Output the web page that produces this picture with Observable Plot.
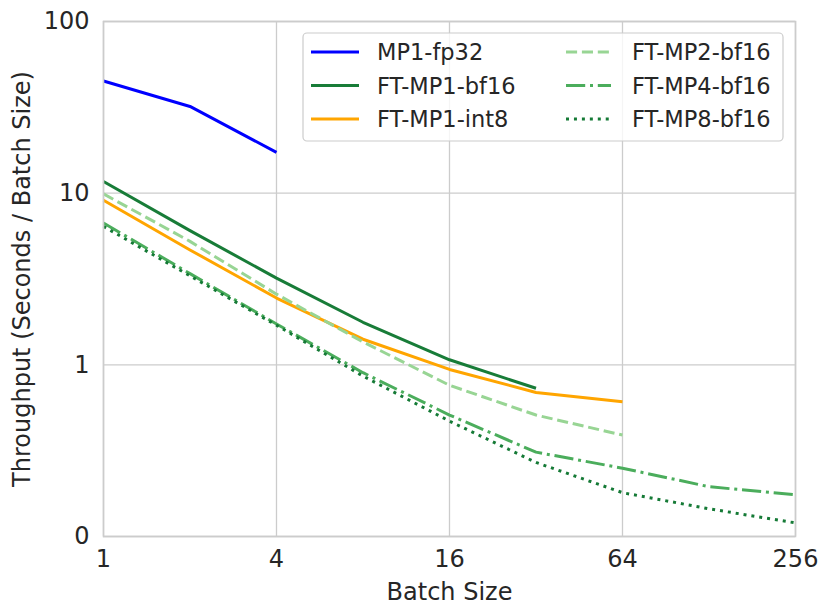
<!DOCTYPE html>
<html>
<head>
<meta charset="utf-8">
<script src="https://cdn.jsdelivr.net/npm/d3@7"></script>
<script src="https://cdn.jsdelivr.net/npm/@observablehq/plot@0.6"></script>
<style>
  body { margin: 0; background: #fff; }
  #wrap { position: relative; width: 830px; height: 616px; font-family: "DejaVu Sans", sans-serif; }
  #legend { position: absolute; left: 0; top: 0; pointer-events: none; }
</style>
</head>
<body>
<div id="wrap"></div>
<script>
const batch = [1, 2, 4, 8, 16, 32, 64, 128, 256];
const seriesNames = ["MP1-fp32", "FT-MP1-bf16", "FT-MP1-int8", "FT-MP2-bf16", "FT-MP4-bf16", "FT-MP8-bf16"];
const mp1_fp32    = [45, 32, 17.3];
const ft_mp1_bf16 = [11.7, 6.05, 3.2, 1.77, 1.07, 0.73];
const ft_mp1_int8 = [9.1, 4.67, 2.45, 1.41, 0.94, 0.69, 0.61];
const ft_mp2_bf16 = [9.9, 5.24, 2.58, 1.36, 0.76, 0.51, 0.39];
const ft_mp4_bf16 = [6.7, 3.4, 1.73, 0.90, 0.51, 0.31, 0.25, 0.195, 0.175];
const ft_mp8_bf16 = [6.4, 3.3, 1.70, 0.86, 0.47, 0.27, 0.18, 0.145, 0.12];
const xTicks = [1, 4, 16, 64, 256];
const yTicks = [0.1, 1, 10, 100];
const yTickLabels = ["0", "1", "10", "100"];

const values = [mp1_fp32, ft_mp1_bf16, ft_mp1_int8, ft_mp2_bf16, ft_mp4_bf16, ft_mp8_bf16];
const colors = ["#0000ff", "#187c38", "#ffa500", "#98d594", "#4bad5c", "#157a36"];
const dashes = [null, null, null, "11.1,4.8", "19.2,4.8,3,4.8", "3,4.95"];

const data = [];
values.forEach((arr, i) => arr.forEach((v, j) => data.push({series: seriesNames[i], x: batch[j], y: v})));

const W = 830, H = 616, mL = 103, mR = 35, mT = 21, mB = 80;
const grid = "#cccccc";
const font = "\"DejaVu Sans\", sans-serif";

const marks = [
  Plot.gridX(xTicks, {stroke: grid, strokeOpacity: 1, strokeWidth: 1.3}),
  Plot.gridY(yTicks, {stroke: grid, strokeOpacity: 1, strokeWidth: 1.3}),
  Plot.axisX(xTicks, {tickSize: 0, tickPadding: 13, fontSize: 24, fill: "#262626",
    label: "Batch Size", labelAnchor: "center", labelArrow: "none", labelOffset: 63}),
  Plot.axisY(yTicks, {tickSize: 0, tickPadding: 14, fontSize: 24, fill: "#262626",
    tickFormat: d => yTickLabels[yTicks.indexOf(d)],
    label: "Throughput (Seconds / Batch Size)", labelAnchor: "center", labelArrow: "none", labelOffset: 91}),
];
seriesNames.forEach((s, i) => {
  marks.push(Plot.line(data.filter(d => d.series === s), {
    x: "x", y: "y", stroke: colors[i], strokeWidth: 3,
    strokeDasharray: dashes[i] || undefined, strokeLinecap: "butt", strokeLinejoin: "round"
  }));
});
marks.push(Plot.frame({stroke: grid, strokeWidth: 1.6}));

const chart = Plot.plot({
  width: W, height: H,
  marginLeft: mL, marginRight: mR, marginTop: mT, marginBottom: mB,
  style: {fontFamily: font, fontSize: "24px", color: "#262626", background: "#fff"},
  x: {type: "log", base: 2, domain: [1, 256]},
  y: {type: "log", domain: [0.1, 100]},
  marks
});
document.getElementById("wrap").appendChild(chart);

// Legend
const lg = d3.select("#wrap").append("svg").attr("id", "legend").attr("width", W).attr("height", H);
lg.append("rect").attr("x", 303).attr("y", 33).attr("width", 480).attr("height", 108)
  .attr("rx", 4).attr("fill", "#fff").attr("fill-opacity", 0.8).attr("stroke", "#cccccc").attr("stroke-width", 1.2);
const rowsY = [52, 85.5, 119];
seriesNames.forEach((s, i) => {
  const col = Math.floor(i / 3), row = i % 3;
  const x0 = col === 0 ? 311 : 566, x1 = col === 0 ? 359 : 611, tx = col === 0 ? 377 : 632;
  lg.append("line").attr("x1", x0).attr("x2", x1).attr("y1", rowsY[row]).attr("y2", rowsY[row])
    .attr("stroke", colors[i]).attr("stroke-width", 3).attr("stroke-dasharray", dashes[i]);
  lg.append("text").attr("x", tx).attr("y", rowsY[row]).attr("dy", "0.36em")
    .attr("font-family", font).attr("font-size", 22.5).attr("fill", "#262626").text(s);
});
</script>
</body>
</html>
